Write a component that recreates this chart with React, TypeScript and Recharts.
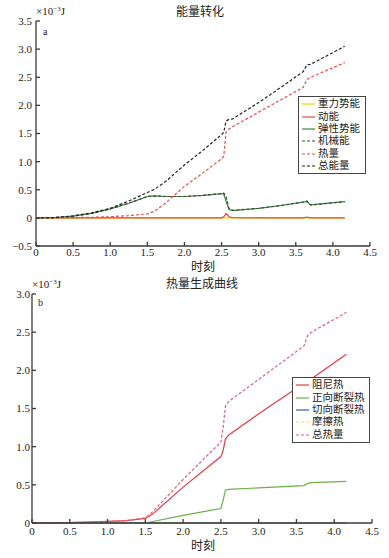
import { LineChart, Line, XAxis, YAxis, Legend } from "recharts";

// 能量转化 (a) — 时刻 / ×10⁻³J
const TIME_A = [0, 0.25, 0.5, 0.75, 1.0, 1.25, 1.5, 1.6, 1.75, 2.0, 2.25, 2.5, 2.53, 2.56, 2.6, 2.65, 3.0, 3.3, 3.6, 3.65, 3.7, 4.16];
const GRAVITY = [0, 0, 0, 0, 0, 0, 0, 0, 0, 0, 0, 0, 0, 0, 0, 0, 0, 0, 0, 0, 0, 0];
const KINETIC = [0, 0, 0, 0, 0, 0, 0, 0, 0, 0, 0, 0, 0.02, 0.08, 0.02, 0.005, 0, 0, 0, 0.015, 0, 0];
const ELASTIC = [0, 0.005, 0.03, 0.08, 0.16, 0.26, 0.38, 0.39, 0.38, 0.38, 0.4, 0.43, 0.42, 0.3, 0.15, 0.13, 0.17, 0.22, 0.28, 0.29, 0.23, 0.29];
const MECHANICAL = [0, 0.005, 0.03, 0.08, 0.16, 0.26, 0.38, 0.39, 0.38, 0.38, 0.4, 0.43, 0.44, 0.38, 0.17, 0.135, 0.17, 0.22, 0.28, 0.3, 0.23, 0.29];
const HEAT = [0, 0, 0.005, 0.01, 0.02, 0.04, 0.07, 0.12, 0.27, 0.56, 0.8, 1.05, 1.1, 1.52, 1.58, 1.62, 1.88, 2.1, 2.32, 2.46, 2.5, 2.76];
const TOTAL = [0, 0.005, 0.035, 0.09, 0.17, 0.3, 0.45, 0.51, 0.65, 0.94, 1.2, 1.48, 1.52, 1.72, 1.75, 1.76, 2.05, 2.32, 2.6, 2.72, 2.73, 3.05];

// 热量生成曲线 (b)
const TIME_B = [0, 0.5, 1.0, 1.25, 1.5, 1.6, 2.0, 2.5, 2.53, 2.56, 2.6, 3.0, 3.6, 3.65, 3.7, 4.16];
const DAMPING = [0, 0.005, 0.02, 0.03, 0.06, 0.12, 0.47, 0.87, 0.95, 1.1, 1.15, 1.43, 1.83, 1.86, 1.89, 2.21];
const NORMAL_FRAC = [0, 0, 0, 0, 0, 0.02, 0.1, 0.19, 0.3, 0.43, 0.44, 0.46, 0.49, 0.52, 0.53, 0.545];
const SHEAR_FRAC = [0, 0, 0, 0, 0, 0, 0, 0, 0, 0, 0, 0, 0, 0, 0, 0];
const FRICTION = [0, 0, 0, 0, 0, 0, 0, 0, 0, 0, 0, 0, 0, 0, 0, 0];
const TOTAL_HEAT = [0, 0.005, 0.02, 0.03, 0.07, 0.15, 0.57, 1.06, 1.25, 1.53, 1.59, 1.88, 2.32, 2.46, 2.5, 2.76];

const X_TICKS = [0, 0.5, 1, 1.5, 2, 2.5, 3, 3.5, 4, 4.5];
const Y_TICKS_A = [-0.5, 0, 0.5, 1, 1.5, 2, 2.5, 3, 3.5];
const Y_TICKS_B = [0, 0.5, 1, 1.5, 2, 2.5, 3];

// serif first so latin text looks like the printed figure; CJK glyphs fall back to Noto
const FONT_NUM = '"Liberation Serif", "DejaVu Serif", serif';
const FONT_CJK = '"Liberation Serif", "Noto Sans CJK SC", sans-serif';
const AXIS = "#3a3a3a";
const TEXT = "#222";

const dataA = TIME_A.map((t, i) => ({
  t,
  gravity: GRAVITY[i],
  kinetic: KINETIC[i],
  elastic: ELASTIC[i],
  mechanical: MECHANICAL[i],
  heat: HEAT[i],
  total: TOTAL[i],
}));

const dataB = TIME_B.map((t, i) => ({
  t,
  damping: DAMPING[i],
  normal: NORMAL_FRAC[i],
  shear: SHEAR_FRAC[i],
  friction: FRICTION[i],
  total: TOTAL_HEAT[i],
}));

const seriesA = [
  { key: "gravity", name: "重力势能", color: "#e8d800", dash: undefined },
  { key: "kinetic", name: "动能", color: "#e4483a", dash: undefined },
  { key: "elastic", name: "弹性势能", color: "#3d8b3d", dash: undefined },
  { key: "mechanical", name: "机械能", color: "#3a4a3a", dash: "3 2" },
  { key: "heat", name: "热量", color: "#e65050", dash: "3 2" },
  { key: "total", name: "总能量", color: "#222222", dash: "3 2" },
];

const seriesB = [
  { key: "damping", name: "阻尼热", color: "#e53945", dash: undefined },
  { key: "normal", name: "正向断裂热", color: "#6ab04c", dash: undefined },
  { key: "shear", name: "切向断裂热", color: "#3a5cb0", dash: undefined },
  { key: "friction", name: "摩擦热", color: "#e8e060", dash: "3 2" },
  { key: "total", name: "总热量", color: "#e0607a", dash: "3 2" },
];

const fmt = (v: number) => (v === 0 ? "0" : v < 0 ? "\u2212" + Math.abs(v).toFixed(1) : v.toFixed(1));
const blank = () => "";

type Item = { key: string; name: string; color: string; dash?: string };

function LegendBox({ items, width }: { items: Item[]; width: number }) {
  return (
    <div
      style={{
        width,
        boxSizing: "border-box",
        border: "1px solid #444",
        background: "#fff",
        padding: "1px 3px",
      }}
    >
      {items.map((it) => (
        <div
          key={it.key}
          style={{
            display: "flex",
            alignItems: "center",
            height: 12.4,
            lineHeight: "12px",
            fontFamily: FONT_CJK,
            fontSize: 10.5,
            color: TEXT,
            whiteSpace: "nowrap",
          }}
        >
          <svg width={13} height={6} style={{ flex: "none" }}>
            <line x1={0} y1={3} x2={13} y2={3} stroke={it.color} strokeWidth={1.2} strokeDasharray={it.dash} />
          </svg>
          <span style={{ marginLeft: 3 }}>{it.name}</span>
        </div>
      ))}
    </div>
  );
}

const tickStyle = { fill: TEXT, fontSize: 11, fontFamily: FONT_NUM };

function Label({ x, y, children, size = 12, font = FONT_CJK, anchor = "center" }: any) {
  return (
    <div
      style={{
        position: "absolute",
        left: x,
        top: y,
        transform: anchor === "center" ? "translate(-50%, -50%)" : "translate(0, -50%)",
        fontFamily: font,
        fontSize: size,
        color: TEXT,
        whiteSpace: "nowrap",
        lineHeight: 1,
      }}
    >
      {children}
    </div>
  );
}

function Unit() {
  return (
    <span style={{ fontFamily: FONT_NUM, fontSize: 11 }}>
      ×10<sup style={{ fontSize: 7, verticalAlign: 4 }}>−3</sup>J
    </span>
  );
}

export default function App() {
  return (
    <div style={{ position: "absolute", left: 0, top: 0, width: 389, height: 558, background: "#fff" }}>
      <div style={{ position: "absolute", left: 0, top: 0 }}>
        <LineChart
          width={389}
          height={280}
          data={dataA}
          margin={{ top: 21, right: 19, left: 6, bottom: 14 }}
          style={{ fontFamily: FONT_NUM }}
        >
          <XAxis
            dataKey="t"
            type="number"
            domain={[0, 4.5]}
            ticks={X_TICKS}
            tickFormatter={fmt}
            height={20}
            stroke={AXIS}
            strokeWidth={1.3}
            tickSize={-4}
            tickMargin={6}
            tick={tickStyle}
            interval={0}
          />
          <XAxis xAxisId="top" orientation="top" type="number" domain={[0, 4.5]} ticks={X_TICKS} tickFormatter={blank} height={0} stroke={AXIS} strokeWidth={1.3} tickSize={-4} interval={0} />
          <YAxis
            type="number"
            domain={[-0.5, 3.5]}
            ticks={Y_TICKS_A}
            tickFormatter={fmt}
            width={30}
            stroke={AXIS}
            strokeWidth={1.3}
            tickSize={-4}
            tickMargin={8}
            tick={tickStyle}
            interval={0}
          />
          <YAxis yAxisId="right" orientation="right" type="number" domain={[-0.5, 3.5]} ticks={Y_TICKS_A} tickFormatter={blank} width={0} stroke={AXIS} strokeWidth={1.3} tickSize={-4} interval={0} />
          {seriesA.map((s) => (
            <Line
              key={s.key}
              type="linear"
              dataKey={s.key}
              name={s.name}
              stroke={s.color}
              strokeWidth={1.2}
              strokeDasharray={s.dash}
              dot={false}
              isAnimationActive={false}
            />
          ))}
          <Legend
            layout="horizontal"
            verticalAlign="middle"
            align="center"
            wrapperStyle={{ left: 298, top: 96, width: 68 }}
            content={() => <LegendBox items={seriesA} width={68} />}
          />
        </LineChart>
        <Label x={200} y={12}>能量转化</Label>
        <Label x={36} y={11} anchor="left"><Unit /></Label>
        <Label x={43} y={32} anchor="left" size={10} font={FONT_NUM}>a</Label>
        <Label x={203} y={267}>时刻</Label>
      </div>

      <div style={{ position: "absolute", left: 0, top: 270 }}>
        <LineChart
          width={389}
          height={288}
          data={dataB}
          margin={{ top: 24, right: 17, left: 4, bottom: 15 }}
          style={{ fontFamily: FONT_NUM }}
        >
          <XAxis
            dataKey="t"
            type="number"
            domain={[0, 4.5]}
            ticks={X_TICKS}
            tickFormatter={fmt}
            height={20}
            stroke={AXIS}
            strokeWidth={1.3}
            tickSize={-4}
            tickMargin={8}
            tick={tickStyle}
            interval={0}
          />
          <XAxis xAxisId="top" orientation="top" type="number" domain={[0, 4.5]} ticks={X_TICKS} tickFormatter={blank} height={0} stroke={AXIS} strokeWidth={1.3} tickSize={-4} interval={0} />
          <YAxis
            type="number"
            domain={[0, 3]}
            ticks={Y_TICKS_B}
            tickFormatter={fmt}
            width={28}
            stroke={AXIS}
            strokeWidth={1.3}
            tickSize={-4}
            tickMargin={6}
            tick={tickStyle}
            interval={0}
          />
          <YAxis yAxisId="right" orientation="right" type="number" domain={[0, 3]} ticks={Y_TICKS_B} tickFormatter={blank} width={0} stroke={AXIS} strokeWidth={1.3} tickSize={-4} interval={0} />
          {seriesB.map((s) => (
            <Line
              key={s.key}
              type="linear"
              dataKey={s.key}
              name={s.name}
              stroke={s.color}
              strokeWidth={1.2}
              strokeDasharray={s.dash}
              dot={false}
              isAnimationActive={false}
            />
          ))}
          <Legend
            layout="horizontal"
            verticalAlign="middle"
            align="center"
            wrapperStyle={{ left: 292, top: 107, width: 78 }}
            content={() => <LegendBox items={seriesB} width={78} />}
          />
        </LineChart>
        <Label x={202} y={14}>热量生成曲线</Label>
        <Label x={32} y={14} anchor="left"><Unit /></Label>
        <Label x={38} y={33} anchor="left" size={10} font={FONT_NUM}>b</Label>
        <Label x={203} y={276}>时刻</Label>
      </div>
    </div>
  );
}
